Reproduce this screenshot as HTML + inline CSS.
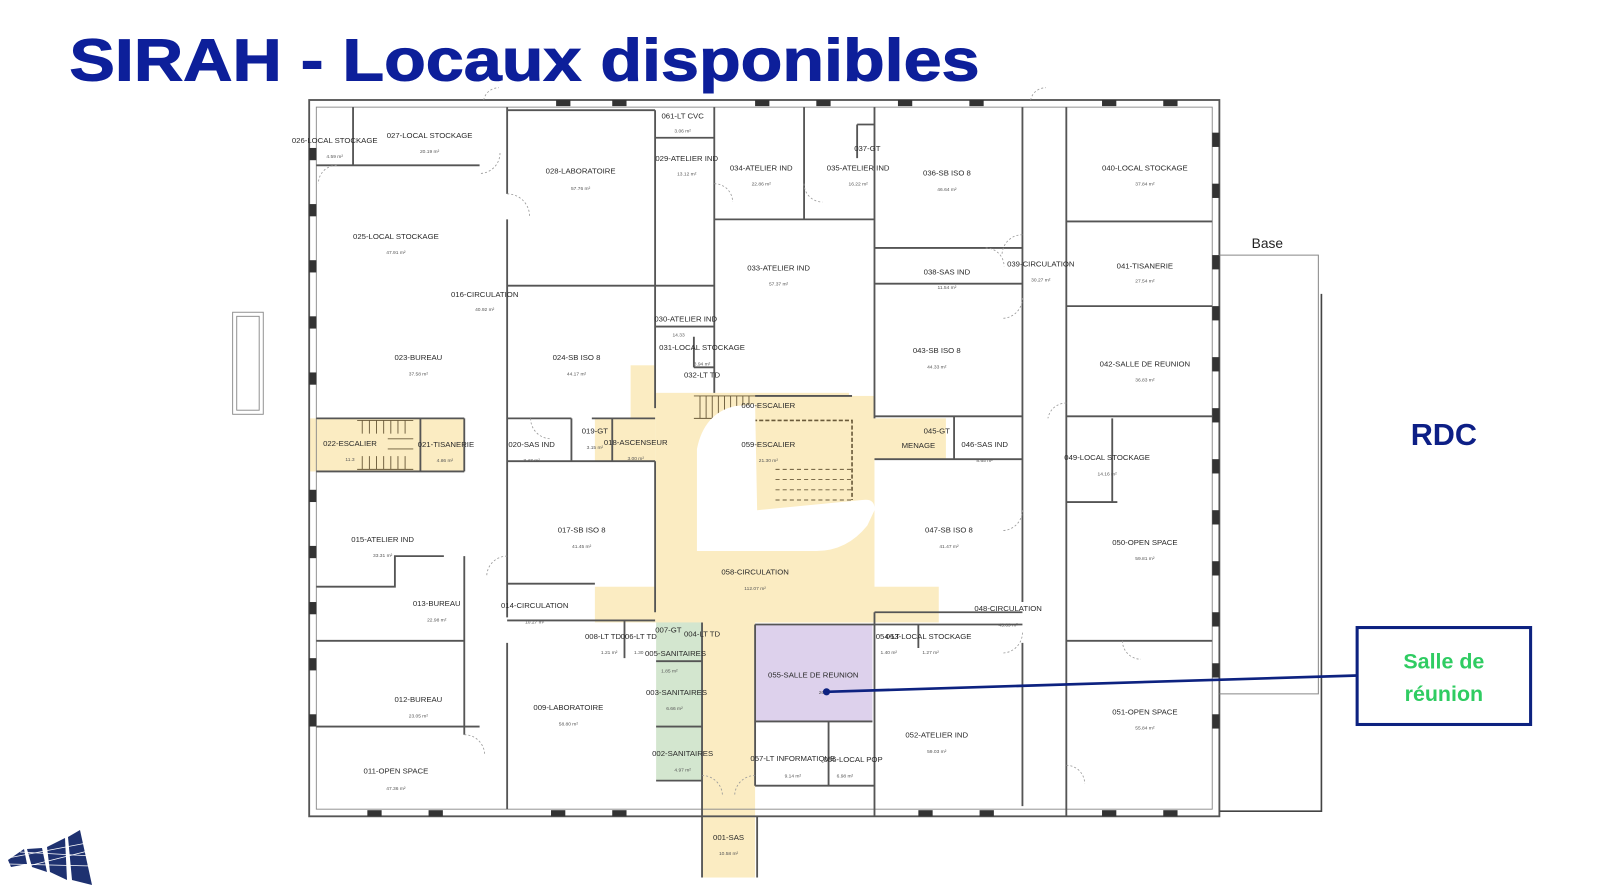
<!DOCTYPE html>
<html><head><meta charset="utf-8"><style>
html,body{margin:0;padding:0;background:#fff;width:1600px;height:894px;overflow:hidden}
svg{display:block}
.l{font-family:"Liberation Sans",sans-serif;font-size:7.6px;fill:#2a2a2a;text-anchor:middle}
.a{font-family:"Liberation Sans",sans-serif;font-size:4.8px;fill:#555;text-anchor:middle}
.w{stroke:#555;stroke-width:1.8;fill:none}
.t{stroke:#888;stroke-width:0.9;fill:none}
.d{stroke:#999;stroke-width:0.8;fill:none;stroke-dasharray:2 2}
.s{stroke:#6a5a3a;stroke-width:0.9;fill:none}
</style></head><body>
<svg width="1600" height="894" viewBox="0 0 1600 894" xmlns="http://www.w3.org/2000/svg">
<g transform="scale(1.0204)">
<g fill="#fbecc2">
<rect x="642" y="385" width="215" height="225"/>
<rect x="583" y="575" width="337" height="35"/>
<rect x="688" y="610" width="52" height="250"/>
<rect x="618" y="358" width="24" height="52"/>
<rect x="583" y="410" width="59" height="42"/>
<rect x="303" y="410" width="152" height="52"/>
<rect x="857" y="410" width="70" height="40"/>
</g>
<rect x="740" y="612" width="115" height="95" fill="#ddd1ec"/>
<rect x="643" y="610" width="45" height="155" fill="#d3e6cf"/>
<!-- stairs -->
<g class="s">
<path d="M680,388 H740 M680,410 H740 M686,388 V410 M692,388 V410 M698,388 V410 M704,388 V410 M710,388 V410 M716,388 V410 M722,388 V410 M728,388 V410 M734,388 V410"/>
<path d="M350,412 H405 M350,460 H405 M355,412 V425 M362,412 V425 M369,412 V425 M376,412 V425 M383,412 V425 M390,412 V425 M397,412 V425 M355,447 V460 M362,447 V460 M369,447 V460 M376,447 V460 M383,447 V460 M390,447 V460 M397,447 V460 M380,430 H405 M380,440 H405"/>
<path d="M760,460 H835 M760,470 H835 M760,480 H835 M760,490 H835" stroke-dasharray="4 3"/>
<path d="M720,412 H835 V490" stroke-dasharray="4 2" stroke-width="1.6"/>
</g>
<!-- white blob -->
<path d="M683,540 L683,440 Q690,405 720,398 L740,396 L742,500 L845,490 Q858,488 857,500 L850,515 Q830,540 800,540 Z" fill="#fff"/>
<rect x="832" y="330" width="25" height="58" fill="#fff"/>
<!-- outer walls -->
<rect x="303" y="98" width="892" height="702" class="w"/>
<rect x="310" y="105" width="878" height="688" class="t"/>
<path d="M688,800 V860 M742,800 V860" class="w"/>
<g fill="#333">
<rect x="303" y="145" width="7" height="12"/><rect x="303" y="200" width="7" height="12"/><rect x="303" y="255" width="7" height="12"/><rect x="303" y="310" width="7" height="12"/><rect x="303" y="365" width="7" height="12"/><rect x="303" y="480" width="7" height="12"/><rect x="303" y="535" width="7" height="12"/><rect x="303" y="590" width="7" height="12"/><rect x="303" y="645" width="7" height="12"/><rect x="303" y="700" width="7" height="12"/>
<rect x="1188" y="130" width="7" height="14"/><rect x="1188" y="180" width="7" height="14"/><rect x="1188" y="250" width="7" height="14"/><rect x="1188" y="300" width="7" height="14"/><rect x="1188" y="350" width="7" height="14"/><rect x="1188" y="400" width="7" height="14"/><rect x="1188" y="450" width="7" height="14"/><rect x="1188" y="500" width="7" height="14"/><rect x="1188" y="550" width="7" height="14"/><rect x="1188" y="600" width="7" height="14"/><rect x="1188" y="650" width="7" height="14"/><rect x="1188" y="700" width="7" height="14"/>
<rect x="545" y="98" width="14" height="6"/><rect x="600" y="98" width="14" height="6"/><rect x="740" y="98" width="14" height="6"/><rect x="800" y="98" width="14" height="6"/><rect x="880" y="98" width="14" height="6"/><rect x="950" y="98" width="14" height="6"/><rect x="1080" y="98" width="14" height="6"/><rect x="1140" y="98" width="14" height="6"/>
<rect x="360" y="794" width="14" height="6"/><rect x="420" y="794" width="14" height="6"/><rect x="540" y="794" width="14" height="6"/><rect x="600" y="794" width="14" height="6"/><rect x="900" y="794" width="14" height="6"/><rect x="960" y="794" width="14" height="6"/><rect x="1080" y="794" width="14" height="6"/><rect x="1140" y="794" width="14" height="6"/>
</g>
<path class="w" d="
M497,105 V190 M497,215 V605 M497,630 V793
M642,108 V400 M642,452 V600
M497,108 H642 M497,280 H642 M497,410 H560 M580,410 H642 M497,452 H642 M497,572 H583
M310,162 H470 M346,105 V162
M310,410 H455 M310,462 H455 M412,410 V462 M455,410 V462
M310,575 H387 V545 H435 M455,545 V720
M310,628 H455 M310,712 H470
M497,608 H642 M612,608 V645 M560,410 V452 M600,410 V452
M642,135 H700 M700,105 V385 M788,105 V215 M700,215 H857 M857,105 V410 M840,122 V155 M840,122 H857
M642,280 H700 M642,320 H700 M680,330 V360 M680,360 H700
M857,243 H1002 M857,278 H1002 M857,408 H1002 M857,450 H1002 M935,408 V450
M1002,105 V590 M1045,105 V800
M1045,217 H1188 M1045,300 H1188 M1045,408 H1188 M1045,492 H1095 M1045,628 H1188 M1090,410 V492
M857,600 H1002 M857,612 H1002 M857,600 V800 M1002,630 V790 M900,612 V635
M740,612 V770 M688,610 V800 M740,707 H855 M812,707 V770 M740,770 H857 M857,612 H740
M643,648 H688 M643,712 H688 M643,765 H688
M740,388 H835
"/>
<g class="d">
<path d="M490,150 A20,20 0 0 1 470,170"/><path d="M497,190 A22,22 0 0 1 519,212"/><path d="M330,162 A18,18 0 0 0 312,180"/>
<path d="M520,410 A20,20 0 0 0 540,430"/><path d="M497,545 A20,20 0 0 0 477,565"/><path d="M455,720 A20,20 0 0 1 475,740"/>
<path d="M1002,230 A20,20 0 0 0 982,250"/><path d="M966,243 A18,18 0 0 1 984,261"/><path d="M1002,292 A20,20 0 0 1 982,312"/>
<path d="M1045,395 A18,18 0 0 0 1027,410"/><path d="M1002,500 A20,20 0 0 1 982,520"/><path d="M1002,620 A20,20 0 0 1 982,640"/>
<path d="M1100,628 A18,18 0 0 0 1118,646"/><path d="M1045,750 A18,18 0 0 1 1063,768"/><path d="M700,180 A18,18 0 0 1 718,198"/><path d="M788,180 A18,18 0 0 0 806,198"/>
<path d="M688,760 A20,20 0 0 1 708,780"/><path d="M740,760 A20,20 0 0 0 720,780"/><path d="M474,98 A15,15 0 0 1 489,86"/><path d="M1010,98 A15,15 0 0 1 1025,86"/>
</g>
<rect x="228" y="306" width="30" height="100" class="t"/><rect x="232" y="310" width="22" height="92" class="t"/>
<path d="M1195,250 H1292 V680 H1195" stroke="#888" stroke-width="1" fill="none"/>
<path d="M1295,288 V795 H1195" stroke="#444" stroke-width="1.6" fill="none"/>
<text class="l" x="328" y="140">026-LOCAL STOCKAGE</text><text class="a" x="328" y="155">4.59 m²</text>
<text class="l" x="421" y="135">027-LOCAL STOCKAGE</text><text class="a" x="421" y="150">20.19 m²</text>
<text class="l" x="569" y="170">028-LABORATOIRE</text><text class="a" x="569" y="186">57.76 m²</text>
<text class="l" x="669" y="116">061-LT CVC</text><text class="a" x="669" y="130">3.06 m²</text>
<text class="l" x="673" y="158">029-ATELIER IND</text><text class="a" x="673" y="172">13.12 m²</text>
<text class="l" x="746" y="167">034-ATELIER IND</text><text class="a" x="746" y="182">22.86 m²</text>
<text class="l" x="850" y="148">037-GT</text>
<text class="l" x="841" y="167">035-ATELIER IND</text><text class="a" x="841" y="182">16.22 m²</text>
<text class="l" x="928" y="172">036-SB ISO 8</text><text class="a" x="928" y="187">46.64 m²</text>
<text class="l" x="1122" y="167">040-LOCAL STOCKAGE</text><text class="a" x="1122" y="182">37.84 m²</text>
<text class="l" x="388" y="234">025-LOCAL STOCKAGE</text><text class="a" x="388" y="249">47.91 m²</text>
<text class="l" x="475" y="291">016-CIRCULATION</text><text class="a" x="475" y="305">40.92 m²</text>
<text class="l" x="763" y="265">033-ATELIER IND</text><text class="a" x="763" y="280">57.37 m²</text>
<text class="l" x="928" y="269">038-SAS IND</text><text class="a" x="928" y="283">11.54 m²</text>
<text class="l" x="1020" y="261">039-CIRCULATION</text><text class="a" x="1020" y="276">30.27 m²</text>
<text class="l" x="1122" y="263">041-TISANERIE</text><text class="a" x="1122" y="277">27.54 m²</text>
<text x="1242" y="243" font-family="Liberation Sans,sans-serif" font-size="13.5" fill="#222" text-anchor="middle">Base</text>
<text class="l" x="672" y="315">030-ATELIER IND</text><text class="a" x="665" y="330">14.33</text>
<text class="l" x="688" y="343">031-LOCAL STOCKAGE</text><text class="a" x="688" y="358">3.94 m²</text>
<text class="l" x="688" y="370">032-LT TD</text>
<text class="l" x="410" y="353">023-BUREAU</text><text class="a" x="410" y="368">37.58 m²</text>
<text class="l" x="565" y="353">024-SB ISO 8</text><text class="a" x="565" y="368">44.17 m²</text>
<text class="l" x="918" y="346">043-SB ISO 8</text><text class="a" x="918" y="361">44.33 m²</text>
<text class="l" x="1122" y="359">042-SALLE DE REUNION</text><text class="a" x="1122" y="374">36.83 m²</text>
<text class="l" x="753" y="400">060-ESCALIER</text>
<text class="l" x="343" y="437">022-ESCALIER</text><text class="a" x="343" y="452">11.3</text>
<text class="l" x="437" y="438">021-TISANERIE</text><text class="a" x="436" y="453">4.86 m²</text>
<text class="l" x="521" y="438">020-SAS IND</text><text class="a" x="521" y="453">3.47 m²</text>
<text class="l" x="583" y="425">019-GT</text><text class="a" x="583" y="440">3.15 m²</text>
<text class="l" x="623" y="436">018-ASCENSEUR</text><text class="a" x="623" y="451">3.00 m²</text>
<text class="l" x="753" y="438">059-ESCALIER</text><text class="a" x="753" y="453">21.30 m²</text>
<text class="l" x="900" y="439">MENAGE</text>
<text class="l" x="918" y="425">045-GT</text>
<text class="l" x="965" y="438">046-SAS IND</text><text class="a" x="965" y="453">8.65 m²</text>
<text class="l" x="1085" y="451">049-LOCAL STOCKAGE</text><text class="a" x="1085" y="466">14.16 m²</text>
<text class="l" x="375" y="531">015-ATELIER IND</text><text class="a" x="375" y="546">33.31 m²</text>
<text class="l" x="570" y="522">017-SB ISO 8</text><text class="a" x="570" y="537">41.45 m²</text>
<text class="l" x="930" y="522">047-SB ISO 8</text><text class="a" x="930" y="537">41.47 m²</text>
<text class="l" x="1122" y="534">050-OPEN SPACE</text><text class="a" x="1122" y="549">59.81 m²</text>
<text class="l" x="740" y="563">058-CIRCULATION</text><text class="a" x="740" y="578">112.07 m²</text>
<text class="l" x="428" y="594">013-BUREAU</text><text class="a" x="428" y="609">22.98 m²</text>
<text class="l" x="524" y="596">014-CIRCULATION</text><text class="a" x="524" y="611">10.27 m²</text>
<text class="l" x="988" y="599">048-CIRCULATION</text><text class="a" x="988" y="614">45.69 m²</text>
<text class="l" x="591" y="626">008-LT TD</text><text class="a" x="597" y="641">1.21 m²</text>
<text class="l" x="626" y="626">006-LT TD</text><text class="a" x="626" y="641">1.30</text>
<text class="l" x="655" y="620">007-GT</text><text class="l" x="688" y="624">004-LT TD</text>
<text class="l" x="662" y="643">005-SANITAIRES</text><text class="a" x="656" y="659">1.85 m²</text>
<text class="l" x="870" y="626">054-LT</text><text class="l" x="910" y="626">053-LOCAL STOCKAGE</text>
<text class="a" x="871" y="641">1.40 m²</text><text class="a" x="912" y="641">1.27 m²</text>
<text class="l" x="797" y="664">055-SALLE DE REUNION</text><text class="a" x="805" y="680">26</text>
<text class="l" x="663" y="681">003-SANITAIRES</text><text class="a" x="661" y="696">6.66 m²</text>
<text class="l" x="410" y="688">012-BUREAU</text><text class="a" x="410" y="703">23.05 m²</text>
<text class="l" x="557" y="696">009-LABORATOIRE</text><text class="a" x="557" y="711">58.80 m²</text>
<text class="l" x="1122" y="700">051-OPEN SPACE</text><text class="a" x="1122" y="715">55.84 m²</text>
<text class="l" x="918" y="723">052-ATELIER IND</text><text class="a" x="918" y="738">59.03 m²</text>
<text class="l" x="669" y="741">002-SANITAIRES</text><text class="a" x="669" y="756">4.97 m²</text>
<text class="l" x="777" y="746">057-LT INFORMATIQUE</text><text class="a" x="777" y="762">9.14 m²</text>
<text class="l" x="836" y="747">056-LOCAL POP</text><text class="a" x="828" y="762">6.98 m²</text>
<text class="l" x="388" y="758">011-OPEN SPACE</text><text class="a" x="388" y="774">47.36 m²</text>
<text class="l" x="714" y="823">001-SAS</text><text class="a" x="714" y="838">10.58 m²</text>
<line x1="810" y1="678" x2="1330" y2="662" stroke="#0d2280" stroke-width="2.6"/>
<circle cx="810" cy="678" r="3.5" fill="#0d2280"/>
<rect x="1330" y="615" width="170" height="95" fill="#fff" stroke="#0d2280" stroke-width="3"/>
<text x="1415" y="655" font-family="Liberation Sans,sans-serif" font-weight="bold" font-size="21" fill="#2fcc62" text-anchor="middle">Salle de</text>
<text x="1415" y="687" font-family="Liberation Sans,sans-serif" font-weight="bold" font-size="21" fill="#2fcc62" text-anchor="middle">réunion</text>
<text x="1415" y="436" font-family="Liberation Sans,sans-serif" font-weight="bold" font-size="30" fill="#0d1f86" text-anchor="middle">RDC</text>
<text x="68" y="79" font-family="Liberation Sans,sans-serif" font-weight="bold" font-size="58" fill="#0d1f9a" stroke="#0d1f9a" stroke-width="1" textLength="892" lengthAdjust="spacingAndGlyphs">SIRAH - Locaux disponibles</text>
</g>
<g fill="#1e3170">
<polygon points="8,860 24,849 27,864 11,867"/>
<polygon points="27,849 42,848 47,872 32,867"/>
<polygon points="47,847 65,838 67,880 50,872"/>
<polygon points="68,837 80,830 92,885 72,880"/>
</g>
<g stroke="#fff" stroke-width="0.8">
<line x1="8" y1="858" x2="92" y2="842"/><line x1="8" y1="864" x2="92" y2="866"/><line x1="20" y1="852" x2="92" y2="856"/><line x1="20" y1="868" x2="92" y2="850"/>
</g>
</svg>
</body></html>
